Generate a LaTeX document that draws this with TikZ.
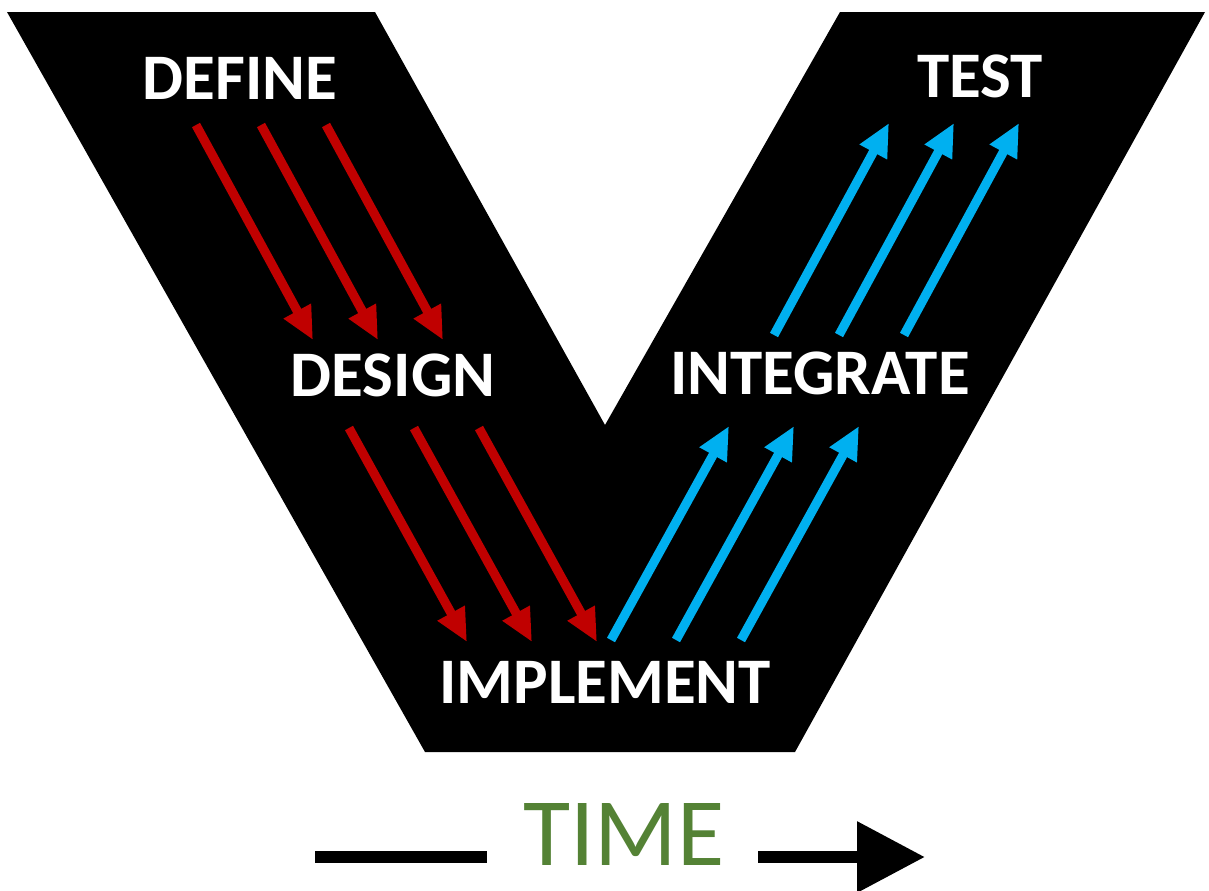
\documentclass[tikz,border=0pt]{standalone}
\usepackage{fontspec}
\setmainfont{Carlito}
\usetikzlibrary{arrows.meta,calc}

\definecolor{vred}{RGB}{192,0,0}
\definecolor{vblue}{RGB}{0,176,240}
\definecolor{timegreen}{RGB}{84,130,53}

\begin{document}
\begin{tikzpicture}[
  x=0.02cm, y=-0.02cm,
  stage/.style={text=white, inner sep=0pt, font=\bfseries\fontsize{37}{42}\selectfont},
  down/.style={vred, line width=5.2pt, -{Triangle[length=0.66cm, width=0.58cm]}},
  up/.style={vblue, line width=5.2pt, -{Triangle[length=0.66cm, width=0.58cm]}},
  timeline/.style={line width=7.3pt}
]
  \useasboundingbox (0,0) rectangle (1209,890);

  % the V
  \fill[black] (7,12) -- (375,12) -- (605,425) -- (840,12) -- (1205,12)
        -- (795,752) -- (425,752) -- cycle;

  \node[stage] (define)    at (240,78)  {DEFINE};
  \node[stage] (design)    at (393,375) {DESIGN};
  \node[stage] (implement) at (605,682) {IMPLEMENT};
  \node[stage] (integrate) at (820,373) {INTEGRATE};
  \node[stage] (test)      at (980,76)  {TEST};

  % arrow ends, first of each group of three
  \coordinate (dfA) at (196,125); \coordinate (dfB) at (313,340);
  \coordinate (dsA) at (349,428); \coordinate (dsB) at (467,642);
  \coordinate (imA) at (611,640); \coordinate (imB) at (729,426);
  \coordinate (inA) at (774,335); \coordinate (inB) at (889,123);

  \foreach \s in {0,65,130} {
    \draw[down] ($(dfA)+(\s,0)$) -- ($(dfB)+(\s,0)$);
    \draw[down] ($(dsA)+(\s,0)$) -- ($(dsB)+(\s,0)$);
    \draw[up]   ($(imA)+(\s,0)$) -- ($(imB)+(\s,0)$);
    \draw[up]   ($(inA)+(\s,0)$) -- ($(inB)+(\s,0)$);
  }

  % time axis
  \node[text=timegreen, inner sep=0pt, font=\fontsize{55}{60}\selectfont] (time) at (624,834) {TIME};
  \coordinate (t0) at (315,857); \coordinate (t1) at (487,857);
  \coordinate (t2) at (758,857); \coordinate (t3) at (925,857);
  \draw[timeline] (t0) -- (t1);
  \draw[timeline, -{Triangle[length=1.36cm, width=1.36cm]}] (t2) -- (t3);
\end{tikzpicture}
\end{document}
